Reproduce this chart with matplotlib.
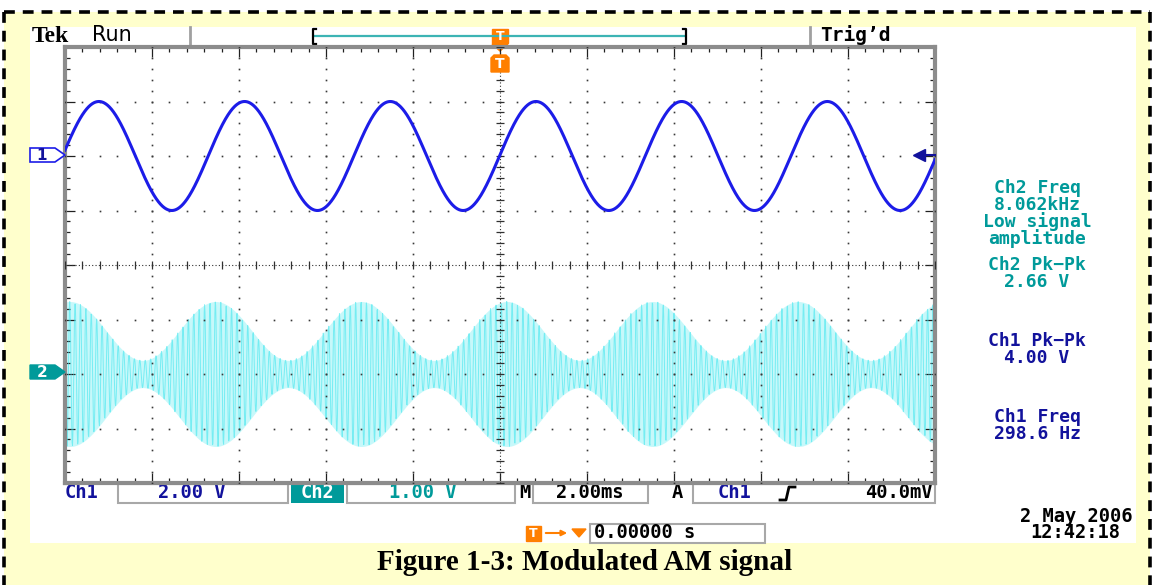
import matplotlib.pyplot as plt
from matplotlib.patches import Rectangle, Polygon
import numpy as np

W, H = 1154, 585

# scope settings
ch1_volts_div = 2.00
ch2_volts_div = 1.00
time_div_ms = 2.00
trig_level = 0.040
ch1_offset_div = 2.0
ch2_offset_div = -2.0

# measured signals
ch1_freq_hz = 298.6
ch1_pkpk = 4.00
ch2_freq_hz = 8062.0
ch2_pkpk = 2.66
ch2_waist = 0.25          # envelope half-height at its narrowest (V)
ch2_env_shift_ms = 0.16   # envelope crest position after the trigger

# readout texts
meas_ch2 = ["Ch2 Freq", "8.062kHz", "Low signal", "amplitude", "Ch2 Pk\u2212Pk", "2.66 V"]
meas_ch1 = ["Ch1 Pk\u2212Pk", "4.00 V", "Ch1 Freq", "298.6 Hz"]
status = ["Ch1", "2.00 V", "Ch2", "1.00 V", "M", "2.00ms", "A", "Ch1", "40.0mV"]
trig_pos = "0.00000 s"
date_str = ["2 May 2006", "12:42:18"]
caption = "Figure 1-3: Modulated AM signal"

BLUE = "#1c1ce8"
NAVY = "#12129c"
TEAL = "#009a9a"
CYAN = "#3fe6ee"
CYAN_FILL = "#9af4f7"
ORANGE = "#ff7f00"
MONO = "DejaVu Sans Mono"

fig = plt.figure(figsize=(W / 100, H / 100), dpi=100, facecolor="white")


def pixel_axes(z):
    a = fig.add_axes([0, 0, 1, 1], zorder=z)
    a.set_xlim(0, W)
    a.set_ylim(H, 0)
    a.axis("off")
    a.patch.set_alpha(0)
    return a


# page background and text, below the graticule
deco = pixel_axes(0)
deco.add_patch(Rectangle((4, 12), 1146, 580, facecolor="#ffffcc", edgecolor="none"))
for xs, ys in [([4, 1150], [12, 12]), ([4, 4], [12, H]), ([1150, 1150], [12, H])]:
    deco.plot(xs, ys, color="black", lw=2.6, ls=(0, (3, 2.2)), solid_capstyle="butt")
deco.add_patch(Rectangle((30, 27), 1106, 516, facecolor="white", edgecolor="none"))

# top status bar
deco.text(32, 36, "Tek", family="Liberation Serif", weight="bold", fontsize=17, va="center")
deco.text(92, 35, "Run", family="DejaVu Sans", fontsize=15, va="center")
deco.plot([190, 190], [27, 45], color="#a0a0a0", lw=2)
deco.plot([810, 810], [27, 45], color="#a0a0a0", lw=2)
deco.text(820, 35, "Trig\u2019d", family=MONO, fontsize=14, weight="bold", va="center")
deco.plot([315, 685], [36, 36], color="#3cb4b4", lw=1.6)
deco.plot([316, 313, 313, 316], [29, 29, 44, 44], color="black", lw=1.6)
deco.plot([683, 686, 686, 683], [29, 29, 44, 44], color="black", lw=1.6)
deco.add_patch(Polygon([(492, 29), (508, 29), (508, 43), (492, 43)], color=ORANGE))
deco.add_patch(Polygon([(492, 44), (508, 44), (500, 51)], color=ORANGE))
deco.text(500, 36.5, "T", color="white", weight="bold", fontsize=9, ha="center", va="center")

# right hand measurement readouts
for txt, y in zip(meas_ch2, [188, 205, 222, 239, 265, 282]):
    deco.text(1037, y, txt, color=TEAL, family=MONO, weight="bold", fontsize=13,
              ha="center", va="center")
for txt, y in zip(meas_ch1, [341, 358, 417, 434]):
    deco.text(1037, y, txt, color=NAVY, family=MONO, weight="bold", fontsize=13,
              ha="center", va="center")

# bottom status bar
for x0, w in [(118, 170), (347, 168), (533, 115), (693, 242), (590, 175)]:
    y0 = 484 if x0 != 590 else 524
    deco.add_patch(Rectangle((x0, y0), w, 19, facecolor="none", edgecolor="#a8a8a8", lw=1.5))
deco.add_patch(Rectangle((291, 484), 53, 19, facecolor=TEAL, edgecolor="none"))
sb = dict(family=MONO, weight="bold", fontsize=13.5, va="center")
deco.text(65, 493, status[0], color=NAVY, **sb)
deco.text(192, 493, status[1], color=NAVY, ha="center", **sb)
deco.text(317, 493, status[2], color="white", ha="center", **sb)
deco.text(423, 493, status[3], color=TEAL, ha="center", **sb)
deco.text(519, 493, status[4], color="black", **sb)
deco.text(590, 493, status[5], color="black", ha="center", **sb)
deco.text(672, 493, status[6], color="black", **sb)
deco.text(718, 493, status[7], color=NAVY, **sb)
deco.plot([780, 786, 789, 795], [500, 500, 487, 487], color="black", lw=2)
deco.text(933, 493, status[8], color="black", ha="right", **sb)

deco.add_patch(Rectangle((526, 526), 15, 15, color=ORANGE))
deco.text(533.5, 533.5, "T", color="white", weight="bold", fontsize=9, ha="center", va="center")
deco.annotate("", xy=(570, 533), xytext=(543, 533),
              arrowprops=dict(arrowstyle="-|>", color=ORANGE, lw=1.5, mutation_scale=8))
deco.add_patch(Polygon([(572, 529), (586, 529), (579, 537)], color=ORANGE))
deco.text(594, 533, trig_pos, color="black", va="center", family=MONO, weight="bold", fontsize=13.5)
deco.text(1133, 516, date_str[0], color="black", ha="right", va="center", family=MONO,
          weight="bold", fontsize=13.5)
deco.text(1075, 533, date_str[1], color="black", ha="center", va="center", family=MONO,
          weight="bold", fontsize=13.5)

deco.text(585, 563, caption, family="Liberation Serif", weight="bold", fontsize=21,
          ha="center", va="center")

# graticule
ax = fig.add_axes([65 / W, (H - 483) / H, 870 / W, 436 / H], zorder=2)
ax.patch.set_alpha(0)
ax.set_xlim(-5, 5)
ax.set_ylim(-4, 4)
ax.set_xticks(np.arange(-5, 5.01, 1))
ax.set_xticks(np.arange(-5, 5.01, 0.2), minor=True)
ax.set_yticks(np.arange(-4, 4.01, 1))
ax.set_yticks(np.arange(-4, 4.01, 0.2), minor=True)
ax.tick_params(which="both", direction="in", top=True, right=True,
               labelbottom=False, labelleft=False, color="#202020", width=0.9)
ax.tick_params(which="major", length=7)
ax.tick_params(which="minor", length=3.5)
for s in ax.spines.values():
    s.set_color("#8c8c8c")
    s.set_linewidth(3)

fine_y = np.arange(-4, 4.01, 0.2)
fine_x = np.arange(-5, 5.01, 0.2)
for gx in range(-4, 5):
    if gx != 0:
        ax.plot(np.full(fine_y.size, gx), fine_y, ls="none", marker="s", ms=1.2, mew=0,
                color="#383838", zorder=3)
for gy in range(-3, 4):
    if gy != 0:
        ax.plot(fine_x, np.full(fine_x.size, gy), ls="none", marker="s", ms=1.2, mew=0,
                color="#383838", zorder=3)
ax.plot([0, 0], [-4, 4], color="#303030", lw=0.8, ls=(0, (1, 2)), zorder=3)
ax.plot([-5, 5], [0, 0], color="#303030", lw=0.8, ls=(0, (1, 2)), zorder=3)
ax.plot(np.zeros(fine_y.size), fine_y, ls="none", marker="_", ms=6, mew=0.9, color="#303030", zorder=3)
ax.plot(fine_x, np.zeros(fine_x.size), ls="none", marker="|", ms=6, mew=0.9, color="#303030", zorder=3)

# lower trace: AM signal on Ch2, envelope haze plus carrier strokes
t2 = np.linspace(-5 * time_div_ms, 5 * time_div_ms, 2201)
a_mean = (ch2_pkpk / 2 + ch2_waist) / 2
depth = (ch2_pkpk / 2 - ch2_waist) / (ch2_pkpk / 2 + ch2_waist)
env = a_mean * (1 + depth * np.cos(2 * np.pi * ch1_freq_hz * 1e-3 * (t2 - ch2_env_shift_ms)))
v2 = env * np.sin(2 * np.pi * ch2_freq_hz * 1e-3 * t2)
x2 = t2 / time_div_ms
ax.fill_between(x2, -env / ch2_volts_div + ch2_offset_div, env / ch2_volts_div + ch2_offset_div,
                color=CYAN_FILL, alpha=0.55, lw=0, zorder=1)
ax.plot(x2, v2 / ch2_volts_div + ch2_offset_div, color=CYAN, lw=0.7, alpha=0.6, zorder=2)

# upper trace: modulating tone on Ch1
t1 = np.linspace(-5 * time_div_ms, 5 * time_div_ms, 3000)
phase0 = np.arcsin(trig_level / (ch1_pkpk / 2))
v1 = ch1_pkpk / 2 * np.sin(2 * np.pi * ch1_freq_hz * 1e-3 * t1 + phase0)
ax.plot(t1 / time_div_ms, v1 / ch1_volts_div + ch1_offset_div, color=BLUE, lw=2.2, zorder=4)

# trigger level arrow
y_trig = trig_level / ch1_volts_div + ch1_offset_div
ax.plot([4.82, 5], [y_trig, y_trig], color=NAVY, lw=1.5, clip_on=False, zorder=4)
ax.plot(4.82, y_trig, marker="<", ms=9, color=NAVY, clip_on=False, zorder=4)

# markers drawn over the graticule
over = pixel_axes(3)
over.add_patch(Polygon([(30, 148), (55, 148), (65, 155), (55, 162), (30, 162)],
                       facecolor="white", edgecolor=BLUE, lw=1.2))
over.text(42, 155.5, "1", color=NAVY, weight="bold", fontsize=11, ha="center", va="center")
over.add_patch(Polygon([(30, 365), (55, 365), (65, 372), (55, 379), (30, 379)],
                       facecolor=TEAL, edgecolor=TEAL))
over.text(42, 372.5, "2", color="white", weight="bold", fontsize=11, ha="center", va="center")
over.add_patch(Polygon([(491, 58), (494, 55), (506, 55), (509, 58), (509, 72), (491, 72)],
                       color=ORANGE))
over.text(500, 64, "T", color="white", weight="bold", fontsize=10, ha="center", va="center")

fig.savefig("out.png", dpi=100)
